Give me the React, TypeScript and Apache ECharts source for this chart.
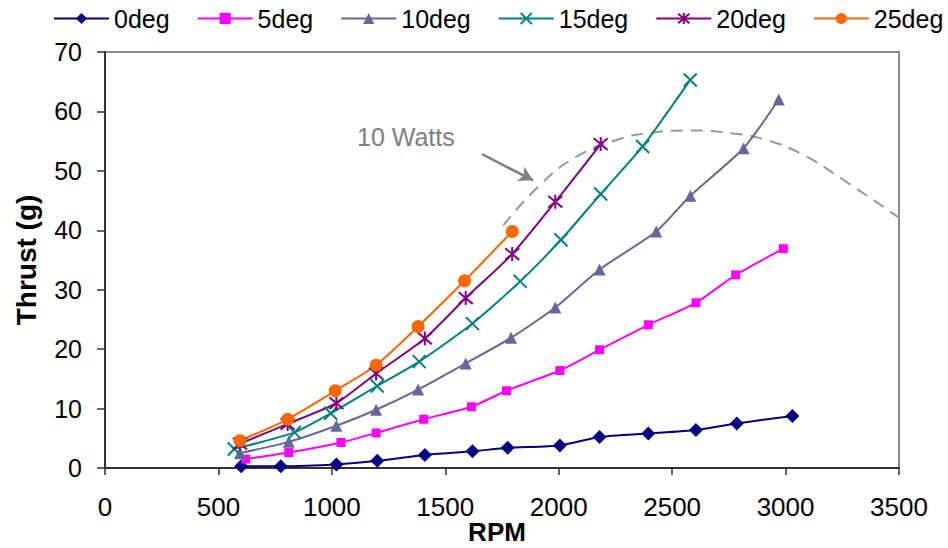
import React, { useEffect, useRef } from "react";
import * as echarts from "echarts";

const seriesNames = ["0deg", "5deg", "10deg", "15deg", "20deg", "25deg"];

const rpm0 = [600, 775, 1020, 1200, 1410, 1620, 1775, 2005, 2180, 2395, 2605, 2785, 3030];
const thrust0 = [0.3, 0.3, 0.6, 1.2, 2.2, 2.8, 3.4, 3.8, 5.2, 5.8, 6.4, 7.5, 8.75];

const rpm5 = [620, 810, 1040, 1195, 1405, 1615, 1770, 2005, 2180, 2395, 2605, 2780, 2990];
const thrust5 = [1.5, 2.6, 4.3, 5.9, 8.2, 10.3, 13.0, 16.4, 19.9, 24.1, 27.8, 32.5, 36.9];

const rpm10 = [595, 810, 1020, 1195, 1380, 1590, 1790, 1985, 2180, 2430, 2580, 2815, 2970];
const thrust10 = [2.5, 4.4, 7.1, 9.8, 13.2, 17.6, 21.9, 27.0, 33.4, 39.8, 45.8, 53.8, 62.0];

const rpm15 = [570, 835, 995, 1200, 1385, 1620, 1830, 2010, 2185, 2370, 2580];
const thrust15 = [3.2, 6.0, 9.2, 13.8, 17.9, 24.3, 31.4, 38.4, 46.1, 54.1, 65.3];

const rpm20 = [595, 805, 1020, 1195, 1410, 1590, 1795, 1985, 2185];
const thrust20 = [4.1, 7.4, 10.9, 15.9, 21.8, 28.6, 36.0, 44.8, 54.5];

const rpm25 = [595, 805, 1015, 1195, 1380, 1585, 1795];
const thrust25 = [4.6, 8.2, 13.0, 17.3, 23.8, 31.5, 39.8];

const wattsRpm = [1755, 1917, 2079, 2255, 2402, 2578, 2768, 2916, 3077, 3254, 3500];
const wattsThrust = [40.8, 47.6, 52.4, 55.2, 56.4, 56.8, 56.3, 55.2, 52.7, 48.5, 42.1];

const xTicks = [0, 3500, 500];
const yTicks = [0, 70, 10];

const rpmSets = [rpm0, rpm5, rpm10, rpm15, rpm20, rpm25];
const thrustSets = [thrust0, thrust5, thrust10, thrust15, thrust20, thrust25];

const colors = ["#000080", "#FF00FF", "#666699", "#008080", "#800080", "#FF6600"];
const symbols = [
  "diamond",
  "rect",
  "triangle",
  "path://M0,0L10,10M10,0L0,10",
  "path://M0,1L10,11M10,1L0,11M5,0L5,12",
  "circle",
];
const symbolSizes = [14, 9, 12, 13, 14, 13];
const stroked = [false, false, false, true, true, false];

const FONT = "'Liberation Sans', Arial, sans-serif";

function zip(a: number[], b: number[]) {
  return a.map((v, i) => [v, b[i]]);
}

export default function App() {
  const ref = useRef<HTMLDivElement>(null);
  useEffect(() => {
    if (!ref.current) return;
    const chart = echarts.init(ref.current, null, { renderer: "svg" });
    const series: any[] = seriesNames.map((name, i) => ({
      name,
      type: "line",
      data: zip(rpmSets[i], thrustSets[i]),
      symbol: symbols[i],
      symbolSize: symbolSizes[i],
      smooth: 0.2,
      color: colors[i],
      lineStyle: { color: colors[i], width: 2 },
      itemStyle: stroked[i]
        ? { color: colors[i], borderColor: colors[i], borderWidth: 2 }
        : { color: colors[i], borderWidth: 0 },
      z: 3,
    }));
    series.push({
      name: "10 Watts",
      type: "line",
      data: zip(wattsRpm, wattsThrust),
      smooth: true,
      showSymbol: false,
      symbol: "none",
      lineStyle: { color: "#999999", width: 2, type: [12, 8] },
      z: 2,
      silent: true,
      markLine: {
        silent: true,
        symbol: ["none", "arrow"],
        symbolSize: [12, 14],
        label: { show: false },
        lineStyle: { color: "#808080", width: 2.5, type: "solid" },
        data: [[{ coord: [1662, 52.8] }, { coord: [1887, 48.4] }]],
      },
    });

    const fmt = (v: number) => String(v);

    chart.setOption({
      animation: false,
      textStyle: { fontFamily: FONT },
      legend: {
        data: seriesNames,
        left: 53,
        top: 6,
        width: 895,
        padding: 0,
        itemWidth: 55,
        itemHeight: 14,
        itemGap: 27,
        textStyle: { fontSize: 25, color: "#000", fontFamily: FONT },
      },
      grid: {
        left: 105,
        right: 49,
        top: 52,
        bottom: 80,
        show: true,
        borderColor: "#888888",
        borderWidth: 2,
        outerBoundsMode: "none",
        containLabel: false,
      },
      xAxis: {
        type: "value",
        min: xTicks[0],
        max: xTicks[1],
        interval: xTicks[2],
        name: "RPM",
        nameLocation: "middle",
        nameGap: 51,
        nameMoveOverlap: false,
        nameTextStyle: {
          fontSize: 26,
          fontWeight: "bold",
          color: "#000",
          fontFamily: FONT,
          padding: [0, 10, 0, 0],
        },
        axisLine: { lineStyle: { color: "#333", width: 2 } },
        axisTick: { show: true, inside: false, length: 7, lineStyle: { color: "#333", width: 1.5 } },
        axisLabel: { fontSize: 26, color: "#000", margin: 26, fontFamily: FONT, formatter: fmt },
        splitLine: { show: false },
      },
      yAxis: {
        type: "value",
        min: yTicks[0],
        max: yTicks[1],
        interval: yTicks[2],
        name: "Thrust (g)",
        nameLocation: "middle",
        nameRotate: 90,
        nameGap: 65,
        nameMoveOverlap: false,
        nameTextStyle: {
          fontSize: 28,
          fontWeight: "bold",
          color: "#000",
          fontFamily: FONT,
        },
        axisLine: { show: true, lineStyle: { color: "#333", width: 2 } },
        axisTick: { show: true, inside: false, length: 8, lineStyle: { color: "#333", width: 1.5 } },
        axisLabel: { fontSize: 25, color: "#000", margin: 23, fontFamily: FONT, formatter: fmt },
        splitLine: { show: false },
      },
      graphic: [
        {
          type: "text",
          left: 357,
          top: 124,
          style: {
            text: "10 Watts",
            fill: "#808080",
            fontSize: 25,
            fontFamily: FONT,
          },
        },
      ],
      series,
    });
    return () => chart.dispose();
  }, []);
  return (
    <div
      ref={ref}
      style={{ position: "fixed", left: 0, top: 0, width: 948, height: 548, background: "#fff" }}
    />
  );
}
